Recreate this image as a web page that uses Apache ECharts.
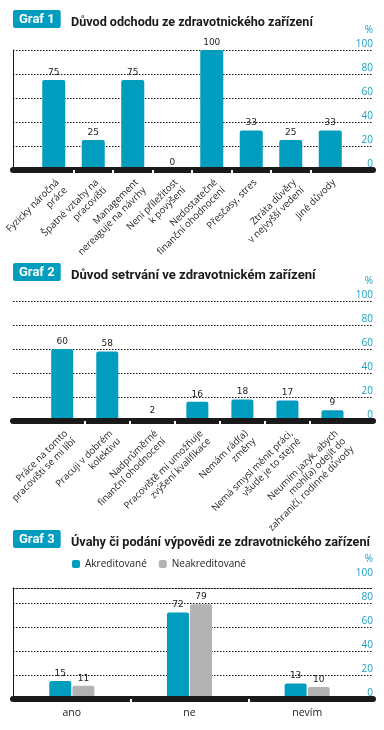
<!DOCTYPE html>
<html><head><meta charset="utf-8">
<script src="https://cdn.jsdelivr.net/npm/echarts@6/dist/echarts.min.js"></script>
<style>html,body{margin:0;padding:0;background:#fff}#c{width:384px;height:730px}</style>
</head><body><div id="c"></div>
<script>
// ---------- DATA ----------
const badge1 = 'Graf 1';
const title1 = 'Důvod odchodu ze zdravotnického zařízení';
const categories1 = [
  'Fyzicky náročná\npráce',
  'Špatné vztahy na\npracovišti',
  'Management\nnereaguje na návrhy',
  'Není příležitost\nk povýšení',
  'Nedostatečné\nfinanční ohodnocení',
  'Přesčasy, stres',
  'Ztráta důvěry\nv nejvyšší vedení',
  'Jiné důvody'
];
const values1 = [75, 25, 75, 0, 100, 33, 25, 33];

const badge2 = 'Graf 2';
const title2 = 'Důvod setrvání ve zdravotnickém zařízení';
const categories2 = [
  'Práce na tomto\npracovišti se mi líbí',
  'Pracuji v dobrém\nkolektivu',
  'Nadprůměrné\nfinanční ohodnocení',
  'Pracoviště mi umožňuje\nzvýšení kvalifikace',
  'Nemám rád(a)\nzměny',
  'Nemá smysl měnit práci,\nvšude je to stejné',
  'Neumím jazyk, abych\nmohl(a) odejít do\nzahraničí, rodinné důvody'
];
const values2 = [60, 58, 2, 16, 18, 17, 9];

const badge3 = 'Graf 3';
const title3 = 'Úvahy či podání výpovědi ze zdravotnického zařízení';
const categories3 = ['ano', 'ne', 'nevím'];
const seriesNames3 = ['Akreditované', 'Neakreditované'];
const valuesAkreditovane = [15, 72, 13];
const valuesNeakreditovane = [11, 79, 10];

const yTicks = [0, 20, 40, 60, 80, 100];
const unitLabel = '%';

// ---------- STYLE ----------
const TEAL = '#009dbf';
const GREY = '#b3b3b3';
const AXIS_TEAL = '#17a0c6';
const DARK = '#1a1a1a';
const FONT = "'Open Sans', 'Noto Sans', sans-serif";
const TITLE_FONT = "'Roboto', sans-serif";
const VAL_FONT = "'DejaVu Sans', sans-serif";

const yMin = yTicks[0], yMax = yTicks[yTicks.length - 1], yStep = yTicks[1] - yTicks[0];

const grid = [], xAxis = [], yAxis = [], series = [], title = [];

function hiddenY(gi, extra) {
  return Object.assign({gridIndex: gi, type: 'value', min: yMin, max: yMax, interval: yStep,
    axisLine: {show: false}, axisTick: {show: false}, axisLabel: {show: false}, splitLine: {show: false}}, extra || {});
}

function addPanel(p) {
  // titles
  title.push({text: p.badge, left: 13, top: p.badgeTop, padding: [3, 6, 2, 6],
    backgroundColor: TEAL, borderRadius: 2,
    textStyle: {color: '#fff', fontSize: 13, fontWeight: 'bold', fontFamily: TITLE_FONT, lineHeight: 13}});
  title.push({text: p.title, left: 71, top: p.badgeTop + 5, padding: 0,
    textStyle: {color: DARK, fontSize: p.titleSize, fontWeight: 'bold', fontFamily: TITLE_FONT, lineHeight: 15}});
  title.push({text: unitLabel, right: 11, top: p.scaleTop - 26, padding: 0,
    textStyle: {color: AXIS_TEAL, fontSize: 10, fontWeight: 'normal', fontFamily: FONT, lineHeight: 12}});

  const h = p.zeroY - p.scaleTop;
  // scale grid (dotted lines, right labels, black base band)
  const gV = grid.length;
  grid.push({left: 13, right: 11, top: p.scaleTop, height: h});
  xAxis.push({gridIndex: gV, type: 'value', min: 0, max: 1, position: 'bottom', offset: 1, z: 3,
    axisLine: {show: true, lineStyle: {color: DARK, width: 6}},
    axisTick: {show: false}, axisLabel: {show: false}, splitLine: {show: false}});
  yAxis.push({gridIndex: gV, type: 'value', position: 'right', min: yMin, max: yMax, interval: yStep,
    axisLine: {show: false}, axisTick: {show: false},
    axisLabel: {inside: true, margin: 0, color: AXIS_TEAL, fontSize: 10, fontFamily: FONT,
      verticalAlign: 'bottom', align: 'right', padding: [0, 0, 1, 0]},
    splitLine: {show: true, showMinLine: false, showMaxLine: !p.frameTop,
      lineStyle: {color: '#111', width: 1, type: [1.5, 1.5]}}});
  if (p.leftLine && !p.frameTop) {
    yAxis.push(hiddenY(gV, {position: 'left', axisLine: {show: true, onZero: false, lineStyle: {color: DARK, width: 1}}}));
  }
  if (p.frameTop) {
    const gF = grid.length;
    grid.push({left: 13, right: 11, top: p.frameTop, height: p.zeroY - p.frameTop});
    xAxis.push({gridIndex: gF, type: 'value', min: 0, max: 1, position: 'top',
      axisLine: {show: true, onZero: false, lineStyle: {color: '#111', width: 1, type: [1.5, 1.5]}},
      axisTick: {show: false}, axisLabel: {show: false}, splitLine: {show: false}});
    yAxis.push(hiddenY(gF, {position: 'left', axisLine: {show: true, onZero: false, lineStyle: {color: DARK, width: 1}}}));
  }

  // bar grid
  const gB = grid.length;
  const n = p.categories.length;
  grid.push({left: p.barLeft, right: p.barRight, top: p.scaleTop, height: h});
  const idx = p.categories.map((c, i) => i);
  const bounds = idx.slice(1).map(i => i - 0.5);
  const xIndex = xAxis.length;
  xAxis.push({gridIndex: gB, type: 'value', min: -0.5, max: n - 0.5, z: 5,
    axisLine: {show: false},
    axisTick: {show: true, customValues: bounds, length: 3, lineStyle: {color: '#fff', width: 2}},
    axisLabel: {show: true, customValues: idx, margin: p.labelMargin, rotate: p.rotate,
      formatter: v => p.categories[Math.round(v)] || '',
      color: '#222', fontSize: p.labelSize, fontFamily: FONT, lineHeight: p.labelSize + 1.5,
      align: p.rotate ? 'right' : 'center', verticalAlign: 'top'},
    splitLine: {show: false}});
  const yIndex = yAxis.length;
  yAxis.push(hiddenY(gB));
  p.seriesList.forEach(s => {
    series.push({type: 'bar', name: s.name, xAxisIndex: xIndex, yAxisIndex: yIndex,
      data: s.values.map((v, i) => [i, v]), barWidth: p.barWidth, barGap: '5%',
      itemStyle: {color: s.color, borderRadius: [2, 2, 0, 0]},
      label: {show: true, position: 'top', distance: 3, color: '#222', fontSize: 9, fontFamily: VAL_FONT,
        formatter: d => d.value[1]}});
  });
}

addPanel({badge: badge1, title: title1, titleSize: 12.6, badgeTop: 10, scaleTop: 50, zeroY: 170,
  barLeft: 34, barRight: 34, categories: categories1, rotate: 45, labelMargin: 7, labelSize: 9.6,
  barWidth: 23, leftLine: true,
  seriesList: [{name: title1, values: values1, color: TEAL}]});

addPanel({badge: badge2, title: title2, titleSize: 13.1, badgeTop: 263, scaleTop: 301, zeroY: 421,
  barLeft: 32, barRight: 29, categories: categories2, rotate: 45, labelMargin: 7, labelSize: 9.6,
  barWidth: 22, leftLine: false,
  seriesList: [{name: title2, values: values2, color: TEAL}]});

addPanel({badge: badge3, title: title3, titleSize: 12.7, badgeTop: 530, scaleTop: 579, zeroY: 699, frameTop: 588,
  barLeft: 13, barRight: 18, categories: categories3, rotate: 0, labelMargin: 8, labelSize: 10.5,
  barWidth: 22, leftLine: true,
  seriesList: [{name: seriesNames3[0], values: valuesAkreditovane, color: TEAL},
               {name: seriesNames3[1], values: valuesNeakreditovane, color: GREY}]});

const chart = echarts.init(document.getElementById('c'), null, {renderer: 'canvas'});
chart.setOption({
  animation: false,
  backgroundColor: '#fff',
  title: title,
  legend: {data: seriesNames3, left: 67, top: 554, icon: 'roundRect', itemWidth: 8, itemHeight: 8, itemGap: 12,
    textStyle: {fontSize: 10, fontFamily: FONT, color: '#222'}},
  grid: grid, xAxis: xAxis, yAxis: yAxis, series: series
});
</script></body></html>
